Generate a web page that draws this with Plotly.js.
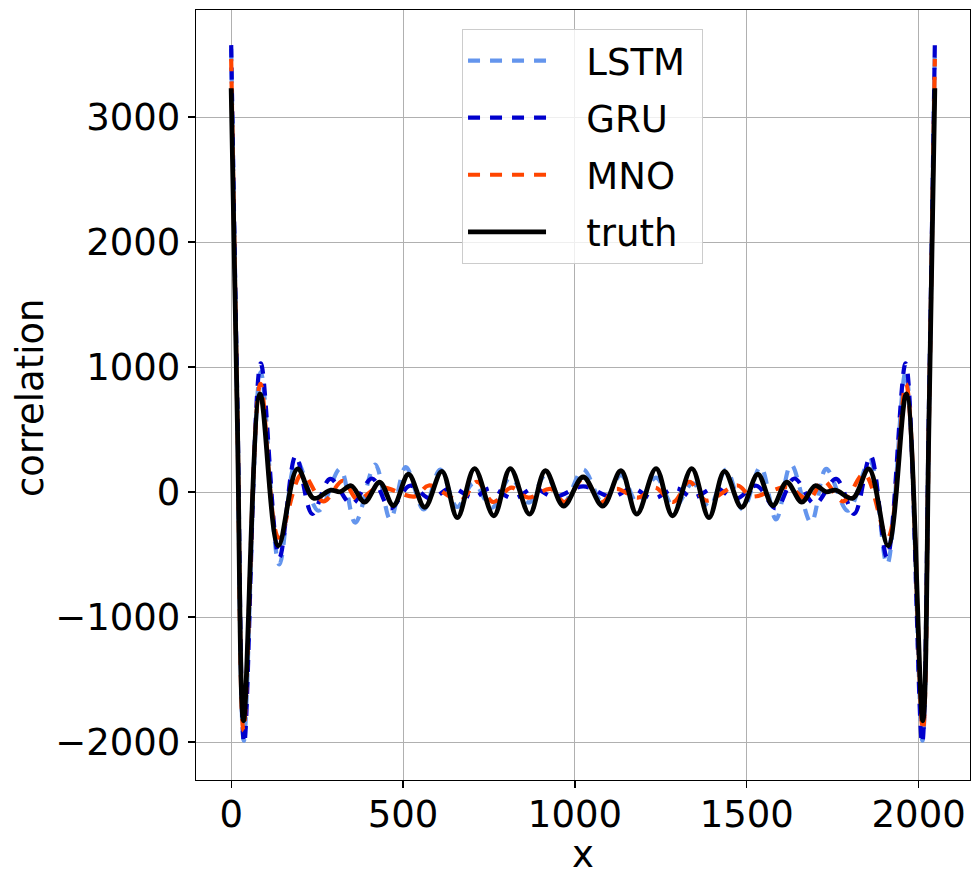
<!DOCTYPE html>
<html>
<head>
<meta charset="utf-8">
<script src="https://cdn.plot.ly/plotly-3.0.1.min.js"></script>
<style>
  html, body { margin: 0; padding: 0; background: #ffffff; }
  #plot { width: 979px; height: 881px; }
</style>
</head>
<body>
<div id="plot"></div>
<script>
    // --- DATA (extrema of each curve) ---
    const truthX = [0, 18, 36, 84, 137, 193, 240, 290, 317, 349, 388, 432, 472, 516, 563, 613, 658, 708, 764, 812, 868, 914, 967, 1024,
                    1081, 1134, 1180, 1236, 1284, 1340, 1390, 1435, 1485, 1532, 1576, 1616, 1660, 1699, 1731, 1758, 1808, 1855, 1911, 1964, 2012, 2030, 2047];
    const truthY = [3230, 560, -1830, 785, -430, 185, -50, 15, 2, 50, -80, 78, -108, 142, -122, 165, -204, 187, -190, 187, -177, 170, -112, 120,
                    -112, 170, -177, 187, -190, 187, -204, 165, -122, 142, -108, 78, -80, 50, 2, 15, -50, 185, -430, 785, -1830, 560, 3230];

    const gruX = [0, 18, 38, 86, 140, 188, 236, 288, 350, 410, 463, 520, 580, 640, 705, 754, 821, 880, 940, 1024,
                  1108, 1168, 1227, 1294, 1343, 1408, 1468, 1528, 1585, 1638, 1698, 1760, 1812, 1860, 1908, 1962, 2010, 2030, 2047];
    const gruY = [3575, 700, -2010, 1030, -525, 290, -175, 105, -95, 108, -132, 50, -55, 35, -45, 30, -52, 30, -40, 45,
                  -40, 30, -52, 30, -45, 35, -55, 50, -132, 108, -95, 105, -175, 290, -525, 1030, -2010, 700, 3575];

    const lstmX = [0, 18, 37, 86, 140, 190, 254, 317, 361, 419, 463, 508, 560, 608, 657, 705, 759, 812, 866, 914, 967, 1024,
                   1081, 1134, 1182, 1236, 1289, 1343, 1391, 1440, 1488, 1540, 1585, 1629, 1687, 1731, 1794, 1858, 1908, 1962, 2011, 2030, 2047];
    const lstmY = [3545, 640, -1990, 960, -580, 250, -150, 185, -245, 220, -220, 200, -140, 180, -120, 70, -125, 115, -85, 135, -85, 180,
                   -85, 135, -85, 115, -125, 70, -120, 180, -140, 200, -220, 220, -245, 185, -150, 250, -580, 960, -1990, 640, 3545];

    const mnoX = [0, 18, 36, 85, 138, 206, 268, 325, 368, 430, 535, 575, 667, 715, 762, 815, 865, 929, 970, 1024,
                  1078, 1119, 1183, 1233, 1286, 1333, 1381, 1473, 1513, 1618, 1680, 1723, 1780, 1842, 1910, 1963, 2012, 2030, 2047];
    const mnoY = [3465, 600, -1910, 865, -365, 145, -75, 90, -60, 38, -35, 52, -68, 82, -80, 35, -45, 25, -80, 105,
                  -80, 25, -45, 35, -80, 82, -68, 52, -35, 38, -60, 90, -75, 145, -365, 865, -1910, 600, 3465];

    const seriesNames = ['LSTM', 'GRU', 'MNO', 'truth'];
    const xTicks = [0, 500, 1000, 1500, 2000];
    const yTicks = [-2000, -1000, 0, 1000, 2000, 3000];

    // --- STYLE ---
    const colors = {
        lstm: '#6495ED',
        gru: '#0000CD',
        mno: '#FF4500',
        truth: '#000000',
        grid: '#b0b0b0'
    };
    const font = 'DejaVu Sans, sans-serif';
    const dashed = '12px,10px';
    const gap = '\u00A0\u00A0\u00A0'; // space between legend line and label

    function curve(x, y, name, color, dash, width) {
        return {
            type: 'scatter',
            mode: 'lines',
            x: x,
            y: y,
            name: gap + name + '\u00A0',
            legendgroup: name,   // one group per trace so tracegroupgap spaces the rows
            line: { color: color, width: width, dash: dash, shape: 'spline', smoothing: 1 }
        };
    }

    const traces = [
        curve(lstmX, lstmY, seriesNames[0], colors.lstm, dashed, 4.2),
        curve(gruX, gruY, seriesNames[1], colors.gru, dashed, 4.2),
        curve(mnoX, mnoY, seriesNames[2], colors.mno, dashed, 4.2),
        curve(truthX, truthY, seriesNames[3], colors.truth, 'solid', 4.8)
    ];

    const axisCommon = {
        showgrid: true,
        gridcolor: colors.grid,
        gridwidth: 1,
        zeroline: false,
        showline: true,
        mirror: true,
        linecolor: '#000000',
        linewidth: 1.3,
        ticks: 'outside',
        ticklen: 7,
        tickwidth: 1.2,
        tickcolor: '#000000',
        tickfont: { family: font, size: 37, color: '#000000' }
    };

    const layout = {
        width: 979,
        height: 881,
        margin: { l: 196, r: 9, t: 10, b: 101 },
        paper_bgcolor: '#ffffff',
        plot_bgcolor: '#ffffff',
        font: { family: font, color: '#000000' },
        showlegend: true,
        xaxis: Object.assign({}, axisCommon, {
            range: [-102.35, 2149.35],
            tickvals: xTicks,
            ticktext: xTicks.map(String),
            ticklabelstandoff: -6
        }),
        yaxis: Object.assign({}, axisCommon, {
            range: [-2304, 3856],
            tickvals: yTicks,
            ticktext: yTicks.map(v => v < 0 ? '\u2212' + Math.abs(v) : String(v))
        }),
        legend: {
            x: 0.3437,
            y: 0.9753,
            xanchor: 'left',
            yanchor: 'top',
            bgcolor: 'rgba(255,255,255,0.8)',
            bordercolor: '#cccccc',
            borderwidth: 1,
            font: { family: font, size: 37, color: '#000000' },
            itemwidth: 78,
            tracegroupgap: 6
        },
        annotations: [
            {
                text: 'correlation', xref: 'paper', yref: 'paper',
                x: -0.2145, y: 0.4974, xanchor: 'center', yanchor: 'middle',
                textangle: -90, showarrow: false,
                font: { family: font, size: 37, color: '#000000' }
            },
            {
                text: 'x', xref: 'paper', yref: 'paper',
                x: 0.5, y: -0.097, xanchor: 'center', yanchor: 'middle',
                showarrow: false,
                font: { family: font, size: 37, color: '#000000' }
            }
        ]
    };

    Plotly.newPlot('plot', traces, layout, { displayModeBar: false, staticPlot: true });
</script>
</body>
</html>
